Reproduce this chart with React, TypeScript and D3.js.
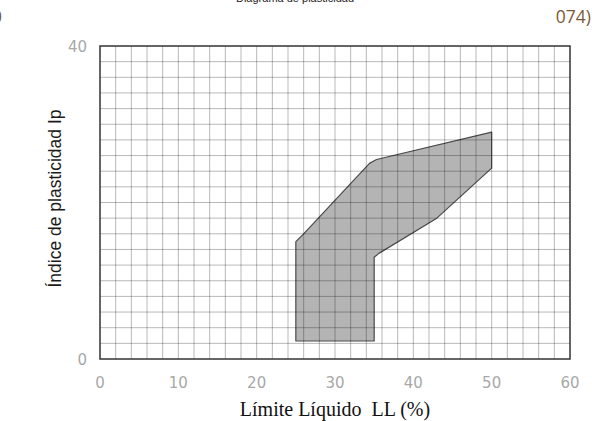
import React, { useRef, useEffect } from 'react';
import * as d3 from 'd3';

// Límite líquido (LL) / Índice de plasticidad (Ip) del huso
const zoneLL = [25, 25, 26, 34.4, 35.3, 50, 50, 43, 35.6, 35, 35];
const zoneIp = [2.3, 15, 16, 25, 25.5, 29, 24.4, 18, 13.5, 13, 2.3];

const xTicks = [0, 10, 20, 30, 40, 50, 60];
const yTicks = [0, 40];

export default function App() {
  const ref = useRef<SVGSVGElement | null>(null);

  useEffect(() => {
    if (!ref.current) return;
    const W = 592, H = 421;
    const svg = d3.select(ref.current);
    svg.selectAll('*').remove();

    const x = d3.scaleLinear().domain([0, 60]).range([100, 570]);
    const y = d3.scaleLinear().domain([0, 40]).range([359, 46]);

    svg.append('rect').attr('width', W).attr('height', H).attr('fill', '#fff');

    // zona sombreada
    const pts: [number, number][] = zoneLL.map((d, i) => [x(d), y(zoneIp[i])]);
    svg.append('path')
      .attr('d', d3.line()(pts) + 'Z')
      .attr('fill', '#b4b4b4')
      .attr('stroke', '#4a4a4a')
      .attr('stroke-width', 1.2)
      .attr('stroke-linejoin', 'round');

    // cuadricula cada 2 unidades
    const g = svg.append('g').attr('stroke', '#000').attr('stroke-opacity', 0.28).attr('stroke-width', 1);
    d3.range(2, 60, 2).forEach(v => {
      g.append('line').attr('x1', x(v)).attr('x2', x(v)).attr('y1', y(0)).attr('y2', y(40));
    });
    d3.range(2, 40, 2).forEach(v => {
      g.append('line').attr('x1', x(0)).attr('x2', x(60)).attr('y1', y(v)).attr('y2', y(v));
    });

    svg.append('rect')
      .attr('x', x(0)).attr('y', y(40))
      .attr('width', x(60) - x(0)).attr('height', y(0) - y(40))
      .attr('fill', 'none').attr('stroke', '#333').attr('stroke-width', 1.5);

    // ticks
    svg.append('g').selectAll('text').data(xTicks).enter().append('text')
      .attr('x', d => x(d)).attr('y', 388)
      .attr('text-anchor', 'middle')
      .attr('font-family', '"DejaVu Sans", sans-serif')
      .attr('font-size', 15).attr('fill', '#a8a8a8')
      .text(d => d);

    svg.append('g').selectAll('text').data(yTicks).enter().append('text')
      .attr('x', 87).attr('y', d => y(d) + 6)
      .attr('text-anchor', 'end')
      .attr('font-family', '"DejaVu Sans", sans-serif')
      .attr('font-size', 15).attr('fill', '#a8a8a8')
      .text(d => d);

    // titulos de ejes
    svg.append('text')
      .attr('transform', `translate(61,${(y(0) + y(40)) / 2 - 4}) rotate(-90)`)
      .attr('text-anchor', 'middle')
      .attr('font-family', '"Liberation Sans", Arial, sans-serif')
      .attr('font-size', 17.5).attr('fill', '#1a1a1a')
      .text('Índice de plasticidad Ip');

    svg.append('text')
      .attr('x', 335).attr('y', 416)
      .attr('text-anchor', 'middle')
      .attr('font-family', '"Liberation Serif", "Times New Roman", serif')
      .attr('font-size', 20).attr('fill', '#111')
      .attr('xml:space', 'preserve')
      .text('Límite Líquido  LL (%)');

    // texto recortado del documento original
    svg.append('text')
      .attr('x', 295).attr('y', 2)
      .attr('text-anchor', 'middle')
      .attr('font-family', '"Liberation Sans", Arial, sans-serif')
      .attr('font-size', 11).attr('fill', '#222')
      .text('Diagrama de plasticidad');

    svg.append('text')
      .attr('x', 591).attr('y', 23)
      .attr('text-anchor', 'end')
      .attr('font-family', '"Open Sans", "Noto Sans", sans-serif')
      .attr('font-size', 17.5).attr('fill', '#7a5a36')
      .text('074)');

    svg.append('text')
      .attr('x', -8).attr('y', 23)
      .attr('font-family', '"Open Sans", "Noto Sans", sans-serif')
      .attr('font-size', 17.5).attr('fill', '#7a5a36')
      .text('0');
  }, []);

  return (
    <div style={{ position: 'absolute', left: 0, top: 0 }}>
      <svg ref={ref} width={592} height={421} style={{ display: 'block' }} />
    </div>
  );
}
